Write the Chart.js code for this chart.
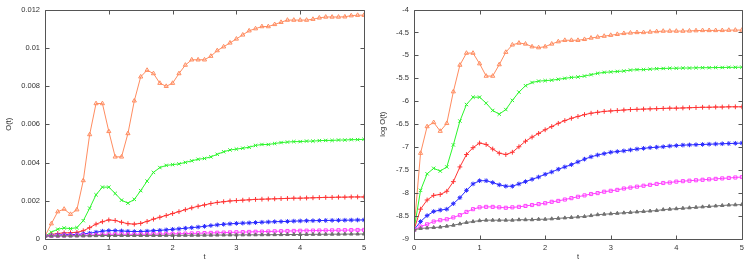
<!DOCTYPE html>
<html>
<head>
<meta charset="utf-8">
<script src="https://cdn.jsdelivr.net/npm/chart.js@4/dist/chart.umd.min.js"></script>
<style>
  html, body { margin: 0; padding: 0; background: #fff; }
  #wrap { position: relative; width: 748px; height: 264px; }
  canvas { position: absolute; top: 0; }
  #c1 { left: 0; }
  #c2 { left: 374px; }
</style>
</head>
<body>
<div id="wrap">
  <canvas id="c1" width="374" height="264"></canvas>
  <canvas id="c2" width="374" height="264"></canvas>
</div>
<script>
// time axis: 0 .. 5 step 0.1
const tValues = [0,0.1,0.2,0.3,0.4,0.5,0.6,0.7,0.8,0.9,1,1.1,1.2,1.3,1.4,1.5,1.6,1.7,1.8,1.9,2,2.1,2.2,2.3,2.4,2.5,2.6,2.7,2.8,2.9,3,3.1,3.2,3.3,3.4,3.5,3.6,3.7,3.8,3.9,4,4.1,4.2,4.3,4.4,4.5,4.6,4.7,4.8,4.9,5];

// log O(t) readings (natural log), one array per series
const logOrange = [-8.80,-7.13,-6.55,-6.46,-6.65,-6.48,-5.79,-5.21,-4.95,-4.95,-5.18,-5.45,-5.45,-5.20,-4.93,-4.77,-4.73,-4.75,-4.81,-4.83,-4.81,-4.75,-4.70,-4.67,-4.67,-4.67,-4.65,-4.62,-4.60,-4.58,-4.56,-4.54,-4.52,-4.51,-4.50,-4.50,-4.49,-4.48,-4.47,-4.47,-4.47,-4.47,-4.466,-4.46,-4.456,-4.456,-4.456,-4.455,-4.45,-4.448,-4.448];
const logGreen = [-8.80,-7.94,-7.58,-7.46,-7.52,-7.43,-6.95,-6.43,-6.07,-5.91,-5.91,-6.04,-6.20,-6.28,-6.18,-5.98,-5.80,-5.66,-5.59,-5.56,-5.55,-5.54,-5.52,-5.50,-5.48,-5.47,-5.45,-5.42,-5.39,-5.37,-5.36,-5.35,-5.34,-5.32,-5.31,-5.31,-5.30,-5.29,-5.285,-5.28,-5.28,-5.275,-5.275,-5.27,-5.268,-5.268,-5.264,-5.264,-5.26,-5.26,-5.257];
const logRed = [-8.80,-8.35,-8.15,-8.05,-8.03,-7.96,-7.75,-7.43,-7.16,-7.01,-6.91,-6.94,-7.04,-7.13,-7.16,-7.11,-6.99,-6.87,-6.78,-6.70,-6.62,-6.55,-6.48,-6.42,-6.37,-6.33,-6.29,-6.26,-6.24,-6.22,-6.21,-6.20,-6.19,-6.18,-6.175,-6.17,-6.165,-6.16,-6.155,-6.15,-6.15,-6.145,-6.14,-6.135,-6.13,-6.13,-6.125,-6.125,-6.12,-6.12,-6.12];
const logBlue = [-8.80,-8.62,-8.49,-8.40,-8.37,-8.35,-8.23,-8.10,-7.94,-7.80,-7.73,-7.73,-7.77,-7.82,-7.85,-7.85,-7.80,-7.75,-7.70,-7.65,-7.59,-7.54,-7.48,-7.43,-7.38,-7.32,-7.26,-7.21,-7.17,-7.14,-7.11,-7.095,-7.08,-7.06,-7.04,-7.025,-7.01,-7.00,-6.99,-6.975,-6.965,-6.955,-6.95,-6.945,-6.94,-6.935,-6.93,-6.925,-6.92,-6.915,-6.91];
const logMagenta = [-8.80,-8.73,-8.68,-8.62,-8.59,-8.57,-8.53,-8.48,-8.41,-8.35,-8.31,-8.30,-8.30,-8.31,-8.32,-8.31,-8.30,-8.28,-8.26,-8.24,-8.22,-8.19,-8.17,-8.14,-8.11,-8.08,-8.05,-8.02,-8.00,-7.97,-7.95,-7.93,-7.90,-7.88,-7.86,-7.84,-7.82,-7.80,-7.78,-7.77,-7.75,-7.74,-7.73,-7.72,-7.71,-7.70,-7.69,-7.68,-7.67,-7.66,-7.65];
const logGray = [-8.80,-8.77,-8.76,-8.75,-8.74,-8.72,-8.70,-8.67,-8.64,-8.62,-8.60,-8.59,-8.59,-8.59,-8.59,-8.59,-8.58,-8.58,-8.58,-8.57,-8.57,-8.56,-8.55,-8.54,-8.53,-8.52,-8.51,-8.49,-8.47,-8.46,-8.45,-8.44,-8.43,-8.42,-8.41,-8.40,-8.39,-8.38,-8.36,-8.35,-8.34,-8.33,-8.32,-8.31,-8.30,-8.29,-8.28,-8.27,-8.26,-8.255,-8.25];

// tick labels
const xTicks = [0,1,2,3,4,5];
const leftYTicks = [0,0.002,0.004,0.006,0.008,0.01,0.012];
const rightYTicks = [-9,-8.5,-8,-7.5,-7,-6.5,-6,-5.5,-5,-4.5,-4];
const leftYTitle = 'O(t)';
const rightYTitle = 'log O(t)';
const xTitle = 't';

const seriesDefs = [
  { log: logGray,    color: '#707070', style: 'triangle', fill: true,  r: 2 },
  { log: logMagenta, color: '#ff40ff', style: 'rect',     fill: false, r: 2.2 },
  { log: logBlue,    color: '#2a2aff', style: 'star',     fill: false, r: 2.3 },
  { log: logRed,     color: '#ff3535', style: 'cross',    fill: false, r: 2.4 },
  { log: logGreen,   color: '#2cf52c', style: 'crossRot', fill: false, r: 2.4 },
  { log: logOrange,  color: '#ff8c60', style: 'triangle', fill: false, r: 2.4 }
];

const FONT = "'Liberation Sans', Arial, sans-serif";
const TXT = '#333';

const framePlugin = {
  id: 'frame',
  afterDatasetsDraw(chart, args, opts) {
    const { ctx, chartArea: a, scales: { x, y } } = chart;
    ctx.save();
    ctx.strokeStyle = '#555';
    ctx.lineWidth = 1;
    ctx.beginPath();
    const L = Math.round(a.left) + 0.5, R = Math.round(a.right) + 0.5;
    const T = Math.round(a.top) + 0.5, B = Math.round(a.bottom) + 0.5;
    ctx.rect(L, T, R - L, B - T);
    const tl = 4;
    xTicks.forEach(v => {
      const px = Math.round(x.getPixelForValue(v)) + 0.5;
      ctx.moveTo(px, B); ctx.lineTo(px, B - tl);
      ctx.moveTo(px, T); ctx.lineTo(px, T + tl);
    });
    opts.yTicks.forEach(v => {
      const py = Math.round(y.getPixelForValue(v)) + 0.5;
      ctx.moveTo(L, py); ctx.lineTo(L + tl, py);
      ctx.moveTo(R, py); ctx.lineTo(R - tl, py);
    });
    ctx.stroke();
    ctx.restore();
  }
};

function makeChart(id, useLog, yMin, yMax, yStep, yTicks, yTitle, yWidth, rightPad) {
  const datasets = seriesDefs.map(s => ({
    data: tValues.map((t, i) => ({ x: t, y: useLog ? s.log[i] : Math.exp(s.log[i]) })),
    borderColor: s.color,
    backgroundColor: s.fill ? s.color : 'rgba(0,0,0,0)',
    pointBorderColor: s.color,
    pointBackgroundColor: s.fill ? s.color : 'rgba(0,0,0,0)',
    borderWidth: 1,
    pointBorderWidth: 1,
    pointStyle: s.style,
    pointRadius: s.r,
    tension: 0,
    fill: false
  }));
  return new Chart(document.getElementById(id), {
    type: 'line',
    data: { datasets },
    options: {
      responsive: false,
      animation: false,
      devicePixelRatio: 1,
      layout: { padding: { left: 0, right: rightPad, top: 7, bottom: 0 } },
      plugins: { legend: { display: false }, tooltip: { enabled: false }, frame: { yTicks } },
      scales: {
        x: {
          type: 'linear', min: 0, max: 5,
          grid: { display: false, drawTicks: false },
          border: { display: false },
          afterBuildTicks: s => { s.ticks = xTicks.map(v => ({ value: v })); },
          ticks: { color: TXT, font: { family: FONT, size: 7.5 }, padding: 4, maxRotation: 0,
                   callback: v => String(v) },
          title: { display: true, text: xTitle, color: TXT, font: { family: FONT, size: 7.5 },
                   padding: { top: 0, bottom: 2.5 } },
          afterFit: s => { s.height = 25; }
        },
        y: {
          type: 'linear', min: yMin, max: yMax,
          grid: { display: false, drawTicks: false },
          border: { display: false },
          afterBuildTicks: s => { s.ticks = yTicks.map(v => ({ value: v })); },
          ticks: { color: TXT, font: { family: FONT, size: 7.5 }, padding: 5,
                   callback: v => String(parseFloat(v.toFixed(4))) },
          title: { display: true, text: yTitle, color: TXT, font: { family: FONT, size: 7.5 },
                   padding: { top: 4.5, bottom: 0 } },
          afterFit: s => { s.width = yWidth; }
        }
      }
    },
    plugins: [framePlugin]
  });
}

makeChart('c1', false, 0, 0.012, 0.002, leftYTicks, leftYTitle, 45, 10);
makeChart('c2', true, -9, -4, 0.5, rightYTicks, rightYTitle, 40, 5);
</script>
</body>
</html>
